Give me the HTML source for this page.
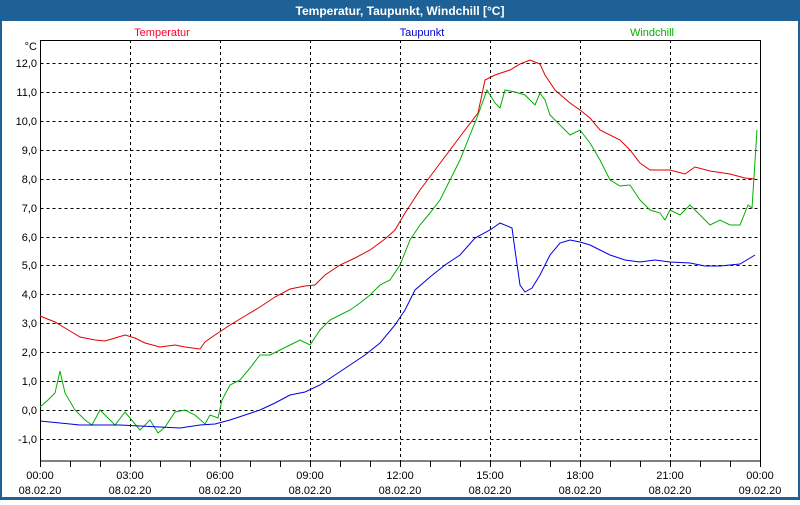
<!DOCTYPE html>
<html><head><meta charset="utf-8"><style>
body{margin:0;width:800px;height:500px;overflow:hidden;background:#fff}
svg text{font-family:"Liberation Sans",sans-serif;font-size:11px}
</style></head><body>
<svg width="800" height="500" viewBox="0 0 800 500">
<rect x="0" y="0" width="800" height="500" fill="#1e6196"/>
<rect x="2" y="21" width="796" height="476" fill="#fff"/>
<text x="400" y="15" fill="#fff" text-anchor="middle" font-weight="bold" style="font-size:12px">Temperatur, Taupunkt, Windchill [°C]</text>
<g stroke="#000" stroke-dasharray="3,3" stroke-width="1">
<path d="M40.5 63.5H760M40.5 92.5H760M40.5 121.5H760M40.5 150.5H760M40.5 179.5H760M40.5 208.5H760M40.5 237.5H760M40.5 265.5H760M40.5 294.5H760M40.5 323.5H760M40.5 352.5H760M40.5 381.5H760M40.5 410.5H760M40.5 439.5H760"/>
<path d="M130.5 40V461M220.5 40V461M310.5 40V461M400.5 40V461M490.5 40V461M580.5 40V461M670.5 40V461"/>
</g>
<rect x="40.5" y="40.5" width="720" height="420.5" fill="none" stroke="#000"/>
<path stroke="#000" d="M70.5 461v6M100.5 461v6M130.5 461v6M160.5 461v6M190.5 461v6M220.5 461v6M250.5 461v6M280.5 461v6M310.5 461v6M340.5 461v6M370.5 461v6M400.5 461v6M430.5 461v6M460.5 461v6M490.5 461v6M520.5 461v6M550.5 461v6M580.5 461v6M610.5 461v6M640.5 461v6M670.5 461v6M700.5 461v6M730.5 461v6M760.5 461v6M40.5 461v6"/>
<g text-anchor="end">
<text x="37" y="50">°C</text>
<text x="37" y="67">12,0</text><text x="37" y="96">11,0</text><text x="37" y="125">10,0</text><text x="37" y="154">9,0</text><text x="37" y="183">8,0</text><text x="37" y="212">7,0</text><text x="37" y="241">6,0</text><text x="37" y="269">5,0</text><text x="37" y="298">4,0</text><text x="37" y="327">3,0</text><text x="37" y="356">2,0</text><text x="37" y="385">1,0</text><text x="37" y="414">0,0</text><text x="37" y="443">-1,0</text>
</g>
<g text-anchor="middle">
<text x="40" y="479">00:00</text><text x="40" y="494">08.02.20</text>
<text x="130" y="479">03:00</text><text x="130" y="494">08.02.20</text>
<text x="220" y="479">06:00</text><text x="220" y="494">08.02.20</text>
<text x="310" y="479">09:00</text><text x="310" y="494">08.02.20</text>
<text x="400" y="479">12:00</text><text x="400" y="494">08.02.20</text>
<text x="490" y="479">15:00</text><text x="490" y="494">08.02.20</text>
<text x="580" y="479">18:00</text><text x="580" y="494">08.02.20</text>
<text x="670" y="479">21:00</text><text x="670" y="494">08.02.20</text>
<text x="760" y="479">00:00</text><text x="760" y="494">09.02.20</text>
<text x="162" y="36" fill="#ff0030">Temperatur</text>
<text x="422" y="36" fill="#0000d0">Taupunkt</text>
<text x="652" y="36" fill="#00b000">Windchill</text>
</g>
<polyline fill="none" stroke="#e00000" points="40,316 55,322 65,328 80,337 95,340 105,341 115,338 125,335 135,338 145,343 160,347 175,345 185,347 200,349 205,342 215,335 230,325 245,316 260,307 275,297 290,289 305,286 315,285 325,275 340,265 355,258 370,250 385,239 395,230 405,213 420,190 435,170 450,150 465,130 478,113 485,80 495,75 510,70 520,64 530,60 540,64 545,75 555,90 570,103 580,110 590,118 600,130 620,140 630,150 640,163 650,170 670,170 685,174 695,167 710,171 730,174 745,178 755,179"/>
<polyline fill="none" stroke="#00b000" points="40,407 48,400 55,393 60,371 65,393 75,410 85,420 92,425 100,410 108,418 115,425 125,412 130,418 140,430 150,420 158,433 165,427 175,412 185,410 195,415 205,424 210,415 218,418 222,400 230,385 240,380 250,368 260,355 270,355 280,350 290,345 300,340 310,345 320,330 330,320 340,315 350,310 360,303 370,295 380,285 390,280 400,265 410,240 420,225 430,213 440,200 450,180 460,160 470,135 478,115 487,90 495,103 500,108 505,90 515,92 525,95 535,105 540,93 545,100 550,115 560,125 570,135 580,130 590,143 600,160 610,180 620,186 630,185 640,200 650,210 660,213 665,220 670,210 680,215 690,205 700,215 710,225 720,220 730,225 740,225 748,205 752,208 757,130"/>
<polyline fill="none" stroke="#0000e0" points="40,421 60,423 80,425 100,425 120,425 140,426 160,427 180,428 200,425 215,424 230,420 245,415 260,410 275,403 290,395 305,392 320,385 335,375 350,365 365,355 380,343 395,325 405,310 415,290 430,277 445,265 460,255 475,238 490,230 500,223 512,228 515,250 520,285 525,292 532,288 540,275 550,255 560,243 570,240 580,242 590,245 600,250 610,255 625,260 640,262 655,260 670,262 690,263 705,266 720,266 740,264 755,255"/>
</svg>
</body></html>
